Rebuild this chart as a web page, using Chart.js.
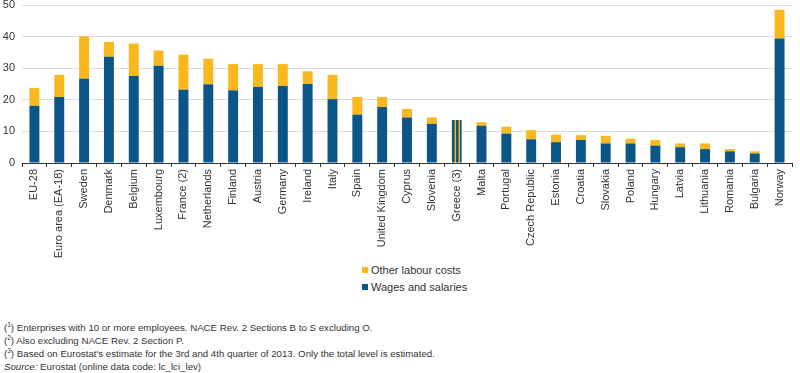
<!DOCTYPE html>
<html lang="en">
<head>
  <meta charset="UTF-8">
  <title>Labour costs per hour</title>
  <script src="https://cdn.jsdelivr.net/npm/chart.js"></script>
  <style>
    body {
      margin: 0;
      background: #fff;
      font-family: "Liberation Sans", Arial, sans-serif;
      color: #333;
    }
    #wrap {
      position: relative;
      width: 800px;
      height: 373px;
    }
    #chartBox {
      position: absolute;
      left: 0;
      top: 0;
      width: 800px;
      height: 262px;
    }
    .legend {
      position: absolute;
      left: 362px;
      font-size: 11px;
      line-height: 14px;
    }
    .legend span {
      display: inline-block;
      width: 6px;
      height: 6px;
      margin-right: 3px;
      vertical-align: 1px;
    }
    .notes {
      position: absolute;
      left: 4px;
      top: 321px;
      font-size: 9.7px;
      line-height: 13px;
      color: #333;
    }
    .notes sup {
      font-size: 6.5px;
      line-height: 0;
      vertical-align: 4px;
    }
  </style>
</head>
<body>
<div id="wrap">
  <div id="chartBox"><canvas id="grafico"></canvas></div>
  <div class="legend" style="top:263px"><span style="background:#f9b81d"></span>Other labour costs</div>
  <div class="legend" style="top:280px"><span style="background:#0c5687"></span>Wages and salaries</div>
  <div class="notes">
    (<sup>1</sup>) Enterprises with 10 or more employees. NACE Rev. 2 Sections B to S excluding O.<br>
    (<sup>2</sup>) Also excluding NACE Rev. 2 Section P.<br>
    (<sup>3</sup>) Based on Eurostat's estimate for the 3rd and 4th quarter of 2013. Only the total level is estimated.<br>
    <i>Source:</i> Eurostat (online data code: lc_lci_lev)
  </div>
</div>

<script>
  const paises = ['EU-28', 'Euro area (EA-18)', 'Sweden', 'Denmark', 'Belgium', 'Luxembourg', 'France (2)',
    'Netherlands', 'Finland', 'Austria', 'Germany', 'Ireland', 'Italy', 'Spain', 'United Kingdom', 'Cyprus',
    'Slovenia', 'Greece (3)', 'Malta', 'Portugal', 'Czech Republic', 'Estonia', 'Croatia', 'Slovakia',
    'Poland', 'Hungary', 'Latvia', 'Lithuania', 'Romania', 'Bulgaria', 'Norway'];

  // salarios (parte azul)
  const salarios = [18.1, 20.9, 26.7, 33.6, 27.5, 30.8, 23.2, 24.9, 23.0, 24.1, 24.4, 25.0, 20.2, 15.3, 17.7, 14.4,
    12.4, null, 11.8, 9.3, 7.5, 6.6, 7.3, 6.2, 6.2, 5.5, 5.0, 4.4, 3.7, 3.0, 39.4];

  // outros custos (parte amarela)
  const outros = [5.6, 7.0, 13.4, 4.7, 10.3, 4.8, 11.1, 8.1, 8.3, 7.2, 6.9, 4.0, 7.7, 5.6, 3.2, 2.7,
    2.0, null, 1.1, 2.2, 2.9, 2.4, 1.5, 2.4, 1.5, 1.8, 1.2, 1.8, 0.7, 0.7, 9.1];

  // Grecia: so o total e estimado
  const totalGrecia = paises.map(p => p === 'Greece (3)' ? 13.6 : null);

  const yTicks = [0, 10, 20, 30, 40, 50];

  const azul = '#0c5687';
  const amarelo = '#f9b81d';

  // listras verticais para a Grecia
  function listras() {
    const c = document.createElement('canvas');
    c.width = 4;
    c.height = 4;
    const g = c.getContext('2d');
    g.fillStyle = azul; g.fillRect(0, 0, 2, 4);
    g.fillStyle = '#7d7d3a'; g.fillRect(2, 0, 1, 4);
    g.fillStyle = amarelo; g.fillRect(3, 0, 1, 4);
    return g.createPattern(c, 'repeat');
  }

  const ctx = document.getElementById('grafico').getContext('2d');
  Chart.defaults.font.family = '"Liberation Sans", Arial, sans-serif';
  Chart.defaults.font.size = 11;
  Chart.defaults.color = '#333';

  new Chart(ctx, {
    type: 'bar',
    data: {
      labels: paises,
      datasets: [
        {label: 'Wages and salaries', data: salarios, backgroundColor: azul},
        {label: 'Other labour costs', data: outros, backgroundColor: amarelo},
        {label: 'Total', data: totalGrecia, backgroundColor: listras()}
      ]
    },
    options: {
      responsive: true,
      maintainAspectRatio: false,
      animation: false,
      layout: {padding: {top: 5, right: 8, left: 0, bottom: 0}},
      datasets: {bar: {categoryPercentage: 0.8, barPercentage: 0.5}},
      plugins: {legend: {display: false}, tooltip: {enabled: false}},
      scales: {
        x: {
          stacked: true,
          afterFit: s => { s.height = 262 - 163; },
          grid: {drawOnChartArea: false, tickLength: 4, color: '#333'},
          border: {color: '#333'},
          ticks: {minRotation: 90, maxRotation: 90, autoSkip: false, padding: 2}
        },
        y: {
          stacked: true,
          min: 0,
          max: 50,
          afterFit: s => { s.width = 22; s.paddingTop = 0; s.paddingBottom = 0; },
          afterBuildTicks: s => { s.ticks = yTicks.map(v => ({value: v})); },
          grid: {color: '#dcdcdc', drawTicks: false},
          border: {display: false},
          ticks: {padding: 7}
        }
      }
    }
  });
</script>
</body>
</html>
